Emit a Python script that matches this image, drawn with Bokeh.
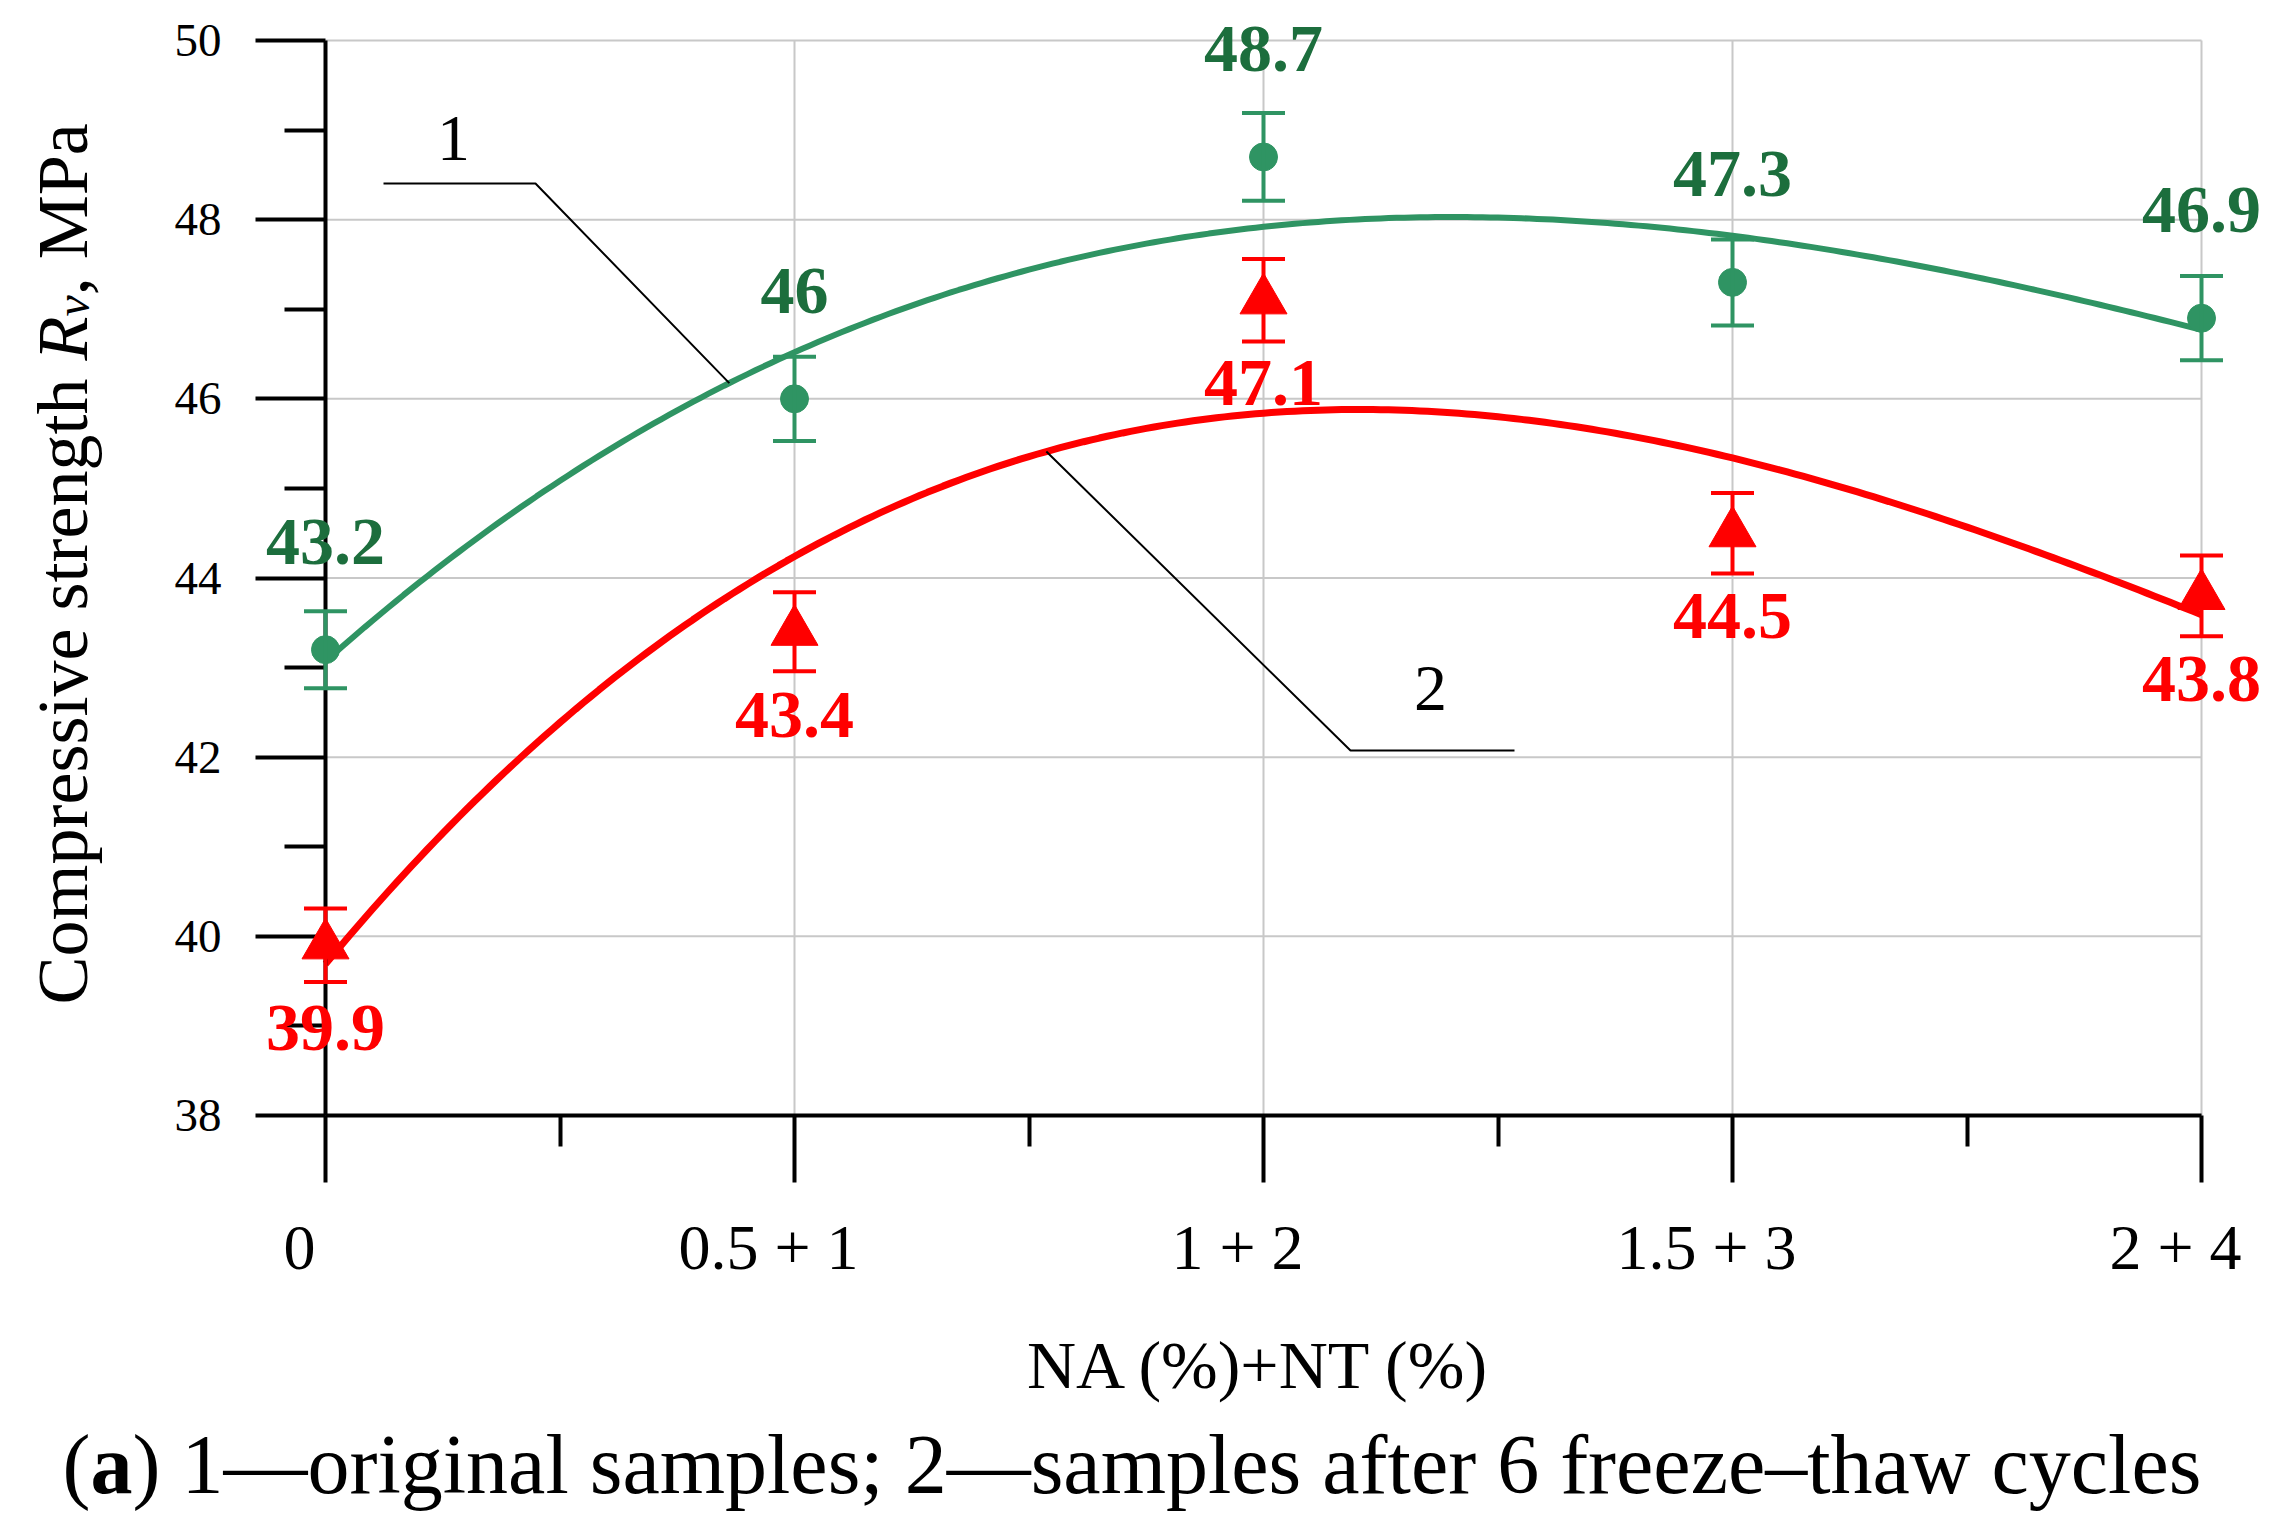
import numpy as np
from bokeh.plotting import figure
from bokeh.models import (ColumnDataSource, Whisker, TeeHead, LabelSet, Label,
                          FixedTicker, Range1d)
from bokeh.core.properties import value
from bokeh.embed import file_html
from bokeh.resources import INLINE

# ---------------- data ----------------
categories = ["0", "0.5 + 1", "1 + 2", "1.5 + 3", "2 + 4"]
x_pos = [0, 1, 2, 3, 4]
x_minor = [0.5, 1.5, 2.5, 3.5]

original = [43.2, 46.0, 48.7, 47.3, 46.9]          # curve 1
original_err = [0.43, 0.47, 0.49, 0.48, 0.47]
original_text = ["43.2", "46", "48.7", "47.3", "46.9"]

after_ft = [39.9, 43.4, 47.1, 44.5, 43.8]          # curve 2
after_ft_err = [0.41, 0.44, 0.46, 0.45, 0.45]
after_ft_text = ["39.9", "43.4", "47.1", "44.5", "43.8"]

y_ticks = [38, 40, 42, 44, 46, 48, 50]
y_minor = [39, 41, 43, 45, 47, 49]

# ---------------- style / layout ----------------
GREEN = "#2f9463"
GREEN_TXT = "#1c6e3d"
RED = "#ff0000"
GRID = "#c8c8c8"
SERIF = "Liberation Serif"

W, H = 2260, 1518
OFF = 8                        # page margin
PX_X0, PX_X4 = 333, 2209       # page pixels of x = 0 and x = 4
PX_Y50, PX_Y38 = 48, 1123      # page pixels of y = 50 and y = 38
PPU_X = (PX_X4 - PX_X0) / 4.0
PPU_Y = (PX_Y38 - PX_Y50) / 12.0


def X(px):
    return (px - PX_X0) / PPU_X


def Y(py):
    return 38 + (PX_Y38 - py) / PPU_Y


def dx(px):
    return px / PPU_X


def dy(px):
    return px / PPU_Y


p = figure(width=W, height=H,
           x_range=Range1d(X(OFF), X(OFF + W)), y_range=Range1d(Y(OFF + H), Y(OFF)),
           output_backend="svg", toolbar_location=None,
           min_border_left=0, min_border_right=0, min_border_top=0, min_border_bottom=0)
p.outline_line_color = None
p.background_fill_color = "white"
p.border_fill_color = "white"
p.xgrid.visible = False
p.ygrid.visible = False

# ---------------- axes (drawn at x = 0 and y = 38) ----------------
xa = p.xaxis[0]
xa.fixed_location = 38
xa.ticker = FixedTicker(ticks=x_pos, minor_ticks=x_minor)
xa.major_label_overrides = {x: "" for x in x_pos}
xa.bounds = (0, 4)
xa.axis_line_width = 4
xa.axis_line_color = "black"
xa.major_tick_line_width = 4
xa.minor_tick_line_width = 4
xa.major_tick_in = 0
xa.major_tick_out = 67
xa.minor_tick_in = 0
xa.minor_tick_out = 31

ya = p.yaxis[0]
ya.fixed_location = 0
ya.ticker = FixedTicker(ticks=y_ticks, minor_ticks=y_minor)
ya.bounds = (38, 50)
ya.axis_line_width = 4
ya.axis_line_color = "black"
ya.major_tick_line_width = 4
ya.minor_tick_line_width = 4
ya.major_tick_in = 0
ya.major_tick_out = 70
ya.minor_tick_in = 0
ya.minor_tick_out = 41
ya.major_label_text_font = SERIF
ya.major_label_text_font_size = "47px"
ya.major_label_text_color = "black"
ya.major_label_standoff = 34

# ---------------- grid lines ----------------
h_grid = [t for t in y_ticks if t > 38]
v_grid = [x for x in x_pos if x > 0]
gh = p.segment(x0=[0] * len(h_grid), y0=h_grid, x1=[4] * len(h_grid), y1=h_grid,
               line_color=GRID, line_width=2)
gv = p.segment(x0=v_grid, y0=[38] * len(v_grid), x1=v_grid, y1=[50] * len(v_grid),
               line_color=GRID, line_width=2)
gh.level = "underlay"
gv.level = "underlay"

# ---------------- trend curves (cubic fit of the data) ----------------
xs = np.linspace(0, 4, 241)
coef_1 = np.polyfit(x_pos, original, 3)
coef_2 = np.polyfit(x_pos, after_ft, 3)
p.line(xs, np.polyval(coef_1, xs), line_color=GREEN, line_width=6)
p.line(xs, np.polyval(coef_2, xs), line_color=RED, line_width=7)

# ---------------- error bars, markers, value labels ----------------
src1 = ColumnDataSource(dict(x=x_pos, y=original,
                             upper=[v + e for v, e in zip(original, original_err)],
                             lower=[v - e for v, e in zip(original, original_err)],
                             text=original_text))
src2 = ColumnDataSource(dict(x=x_pos, y=after_ft,
                             upper=[v + e for v, e in zip(after_ft, after_ft_err)],
                             lower=[v - e for v, e in zip(after_ft, after_ft_err)],
                             text=after_ft_text))

for src, col in ((src1, GREEN), (src2, RED)):
    wh = Whisker(source=src, base="x", upper="upper", lower="lower",
                 line_color=col, line_width=4, level="overlay",
                 upper_head=TeeHead(size=43, line_color=col, line_width=4),
                 lower_head=TeeHead(size=43, line_color=col, line_width=4))
    p.add_layout(wh)

r1 = p.scatter("x", "y", source=src1, marker="circle", size=28,
               fill_color=GREEN, line_color=GREEN)
r2 = p.scatter("x", "y", source=src2, marker="triangle", size=47,
               fill_color=RED, line_color=RED)
r1.level = "overlay"
r2.level = "overlay"

p.add_layout(LabelSet(x="x", y="y", text="text", source=src1, y_offset=108,
                      text_align="center", text_baseline="middle",
                      text_font=value(SERIF), text_font_style="bold",
                      text_font_size="68px", text_color=GREEN_TXT))
p.add_layout(LabelSet(x="x", y="y", text="text", source=src2, y_offset=-83,
                      text_align="center", text_baseline="middle",
                      text_font=value(SERIF), text_font_style="bold",
                      text_font_size="68px", text_color=RED))

# ---------------- x tick labels and x title ----------------
tick_src = ColumnDataSource(dict(x=x_pos, y=[38] * len(x_pos), text=categories))
p.add_layout(LabelSet(x="x", y="y", text="text", source=tick_src,
                      x_offset=-26, y_offset=-132,
                      text_align="center", text_baseline="middle",
                      text_font=value(SERIF), text_font_size="64px", text_color="black"))
p.add_layout(Label(x=X(1267), y=Y(1372), text="NA (%)+NT (%)",
                   text_align="center", text_baseline="middle",
                   text_font=SERIF, text_font_size="68px", text_color="black"))

# ---------------- curve callouts "1" and "2" ----------------
call1_x = [X(391), X(543), 0.861]
call1_y = [Y(191), Y(191), float(np.polyval(coef_1, 0.861))]
call2_x = [X(1522), X(1358), 1.537]
call2_y = [Y(758), Y(758), float(np.polyval(coef_2, 1.537))]
p.line(call1_x, call1_y, line_color="black", line_width=2)
p.line(call2_x, call2_y, line_color="black", line_width=2)
p.add_layout(Label(x=X(461), y=Y(146), text="1", text_align="center", text_baseline="middle",
                   text_font=SERIF, text_font_size="66px", text_color="black"))
p.add_layout(Label(x=X(1438), y=Y(696), text="2", text_align="center", text_baseline="middle",
                   text_font=SERIF, text_font_size="66px", text_color="black"))

# ---------------- y-axis title (rotated, with italic R_v) ----------------
x_base = X(70)
y_cur = Y(1012)
pieces = [("Compressive strength ", "normal", 72, 0, 8.944),
          ("R", "italic", 72, 0, 0.611),
          ("v", "italic", 48, 10, 0.444),
          (", MPa", "normal", 72, 0, 2.389)]
for txt, style, size, shift, em in pieces:
    p.add_layout(Label(x=x_base + dx(shift), y=y_cur, text=txt, angle=np.pi / 2,
                       text_align="left", text_baseline="alphabetic",
                       text_font=SERIF, text_font_style=style,
                       text_font_size=f"{size}px", text_color="black"))
    y_cur += dy(em * size)

# ---------------- caption ----------------
CAP = 84
cap_y = Y(1472)
x_a = X(70) + dx(0.333 * CAP)
p.add_layout(Label(x=x_a, y=cap_y, text="(", text_align="right", text_baseline="alphabetic",
                   text_font=SERIF, text_font_size=f"{CAP}px", text_color="black"))
p.add_layout(Label(x=x_a, y=cap_y, text="a", text_align="left", text_baseline="alphabetic",
                   text_font=SERIF, text_font_style="bold",
                   text_font_size=f"{CAP}px", text_color="black"))
p.add_layout(Label(x=x_a + dx(0.5 * CAP), y=cap_y,
                   text=") 1\u2014original samples; 2\u2014samples after 6 freeze\u2013thaw cycles",
                   text_align="left", text_baseline="alphabetic",
                   text_font=SERIF, text_font_size=f"{CAP}px", text_color="black"))

open("out.html", "w").write(file_html(p, INLINE))
